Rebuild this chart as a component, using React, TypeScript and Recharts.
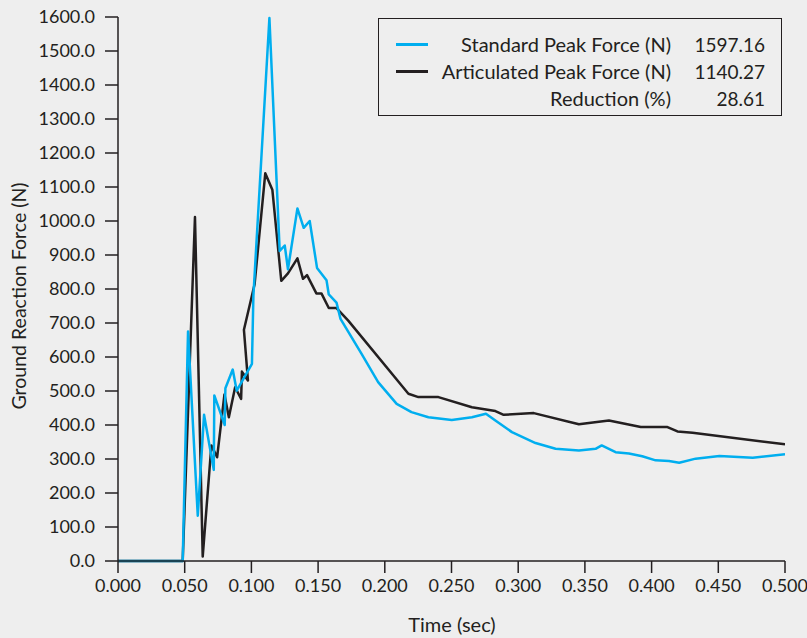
import { LineChart, Line, XAxis, YAxis, Label, Legend } from 'recharts';

// standard boot (time in sec, force in N)
const standardTime = [
  0, 0.0485, 0.0525, 0.0598, 0.0645, 0.0718, 0.0722, 0.08, 0.0805, 0.086, 0.089,
  0.1004, 0.1015, 0.1135, 0.1212, 0.125, 0.1274, 0.1345, 0.1392, 0.1437, 0.1492,
  0.1563, 0.158, 0.1638, 0.1668, 0.1826, 0.195, 0.2089, 0.22, 0.2327, 0.2502,
  0.2653, 0.2758, 0.2829, 0.2953, 0.313, 0.328, 0.3455, 0.358, 0.3626, 0.373,
  0.383, 0.393, 0.403, 0.413, 0.4207, 0.433, 0.4508, 0.4758, 0.5,
];
const standardForce = [
  0, 0, 675, 133, 430, 268, 487, 400, 508, 563, 501,
  580, 780, 1597.16, 912, 928, 858, 1037, 980, 1000, 862,
  826, 784, 760, 712, 609, 526, 462, 438, 423, 415,
  423, 433, 413, 379, 347, 330, 325, 330, 340, 320,
  316, 308, 296, 294, 289, 301, 309, 304, 314,
];

// articulated boot
const articulatedTime = [
  0, 0.0485, 0.0577, 0.0635, 0.07, 0.0743, 0.0798, 0.0831, 0.0878, 0.0923, 0.0929,
  0.0974, 0.0944, 0.1024, 0.1104, 0.1157, 0.1224, 0.1274, 0.1345, 0.1387, 0.1417,
  0.1487, 0.1525, 0.158, 0.1638, 0.1726, 0.2177, 0.2252, 0.2402, 0.2653, 0.2829,
  0.2891, 0.3117, 0.3455, 0.368, 0.3919, 0.4119, 0.4194, 0.4307, 0.5,
];
const articulatedForce = [
  0, 0, 1012, 13, 340, 305, 490, 423, 511, 477, 557,
  531, 680, 814, 1140.27, 1092, 824, 846, 890, 830, 841,
  787, 787, 744, 744, 707, 492, 482, 482, 452, 441,
  430, 435, 402, 413, 394, 394, 381, 377, 343,
];

const timeTicks = [0, 0.05, 0.1, 0.15, 0.2, 0.25, 0.3, 0.35, 0.4, 0.45, 0.5];
const forceTicks = [0, 100, 200, 300, 400, 500, 600, 700, 800, 900, 1000, 1100, 1200, 1300, 1400, 1500, 1600];

const legendLabels = ['Standard Peak Force (N)', 'Articulated Peak Force (N)', 'Reduction (%)'];
const legendValues = ['1597.16', '1140.27', '28.61'];

const BLUE = '#00aeef';
const DARK = '#231f20';
const FONT = 'Lato, "Open Sans", sans-serif';

const standardData = standardTime.map((t, i) => ({ t, v: standardForce[i] }));
const articulatedData = articulatedTime.map((t, i) => ({ t, v: articulatedForce[i] }));

function PeakLegend() {
  const colors = [BLUE, DARK, null];
  return (
    <div
      style={{
        position: 'relative',
        width: 404,
        height: 98,
        border: `1.5px solid ${DARK}`,
        boxSizing: 'border-box',
        fontFamily: FONT,
        color: DARK,
      }}
    >
      {legendLabels.map((label, i) => (
        <div key={label} style={{ position: 'absolute', left: 0, top: 12 + i * 27, width: '100%', height: 27, lineHeight: '27px' }}>
          {colors[i] && (
            <div style={{ position: 'absolute', left: 17, top: 12, width: 32, height: 2.5, background: colors[i] as string }} />
          )}
          <span style={{ position: 'absolute', right: 110, whiteSpace: 'nowrap', fontSize: 20 }}>{label}</span>
          <span style={{ position: 'absolute', right: 16, whiteSpace: 'nowrap', fontSize: 19 }}>{legendValues[i]}</span>
        </div>
      ))}
    </div>
  );
}

export default function App() {
  const tickStyle = { fontFamily: FONT, fontSize: 18, fill: DARK };

  return (
    <div style={{ position: 'absolute', left: 0, top: 0, width: 807, height: 638, background: '#eeeeee' }}>
      <LineChart width={807} height={638} margin={{ top: 17, right: 22, left: 0, bottom: 0 }}>
        <XAxis
          dataKey="t"
          type="number"
          domain={[0, 0.5]}
          ticks={timeTicks}
          tickFormatter={(v: number) => v.toFixed(3)}
          height={77}
          tickSize={12}
          tickMargin={6}
          tick={tickStyle}
          stroke={DARK}
          strokeWidth={1.5}
          allowDataOverflow
        >
          <Label
            content={() => (
              <text x={452} y={632} textAnchor="middle" fontFamily={FONT} fontSize={20} fill={DARK}>
                Time (sec)
              </text>
            )}
          />
        </XAxis>
        <YAxis
          type="number"
          domain={[0, 1600]}
          ticks={forceTicks}
          tickFormatter={(v: number) => v.toFixed(1)}
          width={118}
          tickSize={13}
          tickMargin={10}
          tick={tickStyle}
          stroke={DARK}
          strokeWidth={1.5}
          interval={0}
        >
          <Label
            content={() => (
              <text
                x={0}
                y={0}
                transform="translate(26, 296) rotate(-90)"
                textAnchor="middle"
                fontFamily={FONT}
                fontSize={19.5}
                fill={DARK}
              >
                Ground Reaction Force (N)
              </text>
            )}
          />
        </YAxis>
        <Legend
          layout="vertical"
          align="center"
          verticalAlign="middle"
          content={() => <PeakLegend />}
          wrapperStyle={{ position: 'absolute', left: 378, top: 18, width: 404, height: 98 }}
        />
        <Line
          data={articulatedData}
          dataKey="v"
          name="Articulated"
          stroke={DARK}
          strokeWidth={2.5}
          dot={false}
          activeDot={false}
          isAnimationActive={false}
          strokeLinejoin="round"
        />
        <Line
          data={standardData}
          dataKey="v"
          name="Standard"
          stroke={BLUE}
          strokeWidth={2.5}
          dot={false}
          activeDot={false}
          isAnimationActive={false}
          strokeLinejoin="round"
        />
      </LineChart>
    </div>
  );
}
